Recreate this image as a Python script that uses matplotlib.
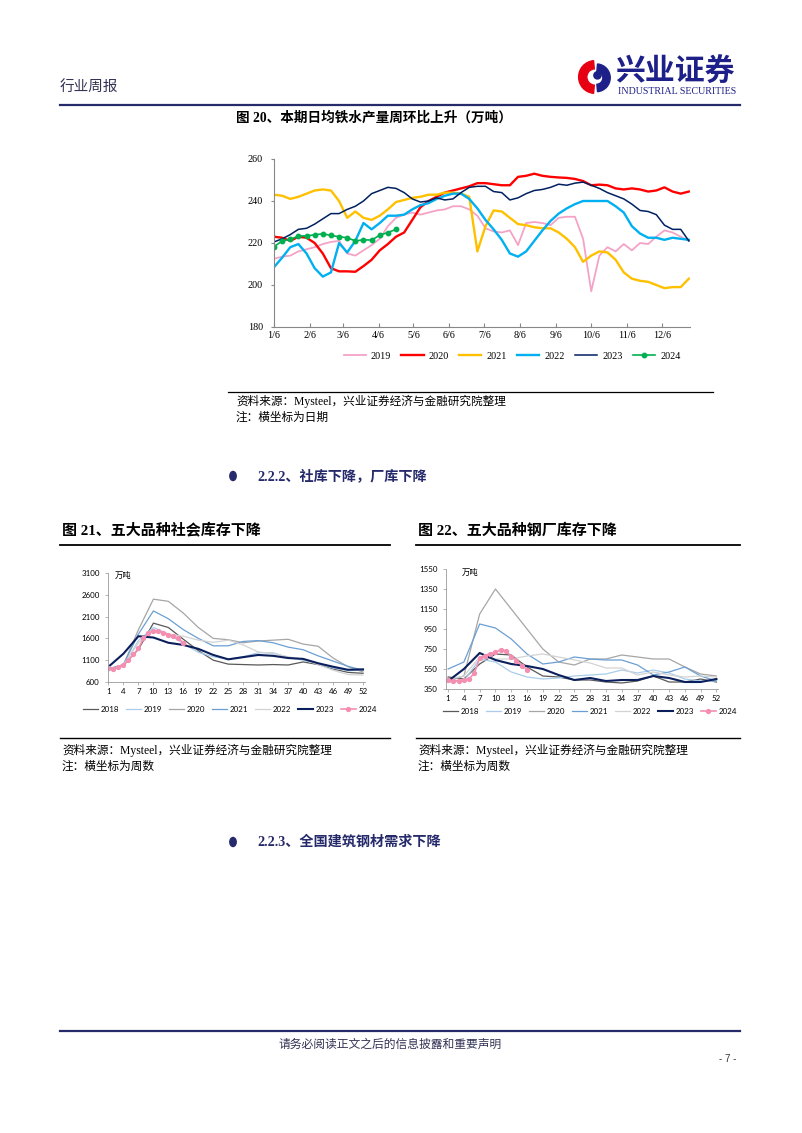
import matplotlib.pyplot as plt
import numpy as np
from matplotlib.patches import Wedge, Circle

W, H = 802, 1133
SERIF_CN = ['Liberation Serif', 'Noto Sans CJK SC']
NAVY = '#262a6b'

# ---------------- data: fig 20 (weekly, daily avg hot metal, 万吨) ----------------
days = 5 + 7 * np.arange(52)
month_days = [5, 36, 64, 95, 125, 156, 186, 217, 248, 278, 309, 339]
month_labels = ['1/6', '2/6', '3/6', '4/6', '5/6', '6/6', '7/6', '8/6', '9/6', '10/6', '11/6', '12/6']

y2019 = [212.5, 213.5, 214, 216, 217, 218, 219.5, 220.5, 221, 215, 214, 216.5, 219, 222,
         228, 232, 233.5, 234.5, 233.5, 234.5, 235.5, 236, 237.5, 237.5, 236, 233, 227,
         225.5, 225, 226, 219, 229.5, 230, 229.5, 228.5, 232, 232.5, 232.5, 222, 197, 214,
         218, 216, 219.5, 216.5, 220, 219.5, 223, 226, 225, 223, 221]
y2020 = [223, 222.5, 221, 223, 222.5, 220, 215, 208, 206.5, 206.5, 206.3, 209, 212, 216.5,
         219.5, 223, 225, 231, 237, 240, 242, 244, 245, 246, 247, 248.5, 248.5, 248, 247.5,
         247.5, 251.5, 252, 253, 252, 251.5, 251.2, 251, 250.5, 249.5, 247.5, 247.8, 247.5,
         246, 245.5, 246, 245.5, 244.5, 245, 246.5, 244.5, 243.5, 244.5]
y2021 = [243, 242.5, 241, 242, 243.5, 245, 245.5, 245, 240, 232, 235, 232, 231, 233, 236,
         239.5, 240.5, 241.5, 242, 243, 243, 244, 244, 243.5, 242, 216, 228, 235.5, 235,
         232, 229, 228.5, 227.5, 227, 227, 225, 222, 218, 211, 214, 216, 215.5, 212, 206,
         203, 202, 201.5, 200, 198.5, 199, 199, 203]
y2022 = [208.5, 213, 218, 219.5, 215, 208, 204, 206, 220, 215.5, 221, 229.5, 226.5, 229.5,
         233, 233, 233.5, 236, 238, 239, 241, 242.5, 243.5, 243.5, 241, 236.5, 231, 226.5,
         221.5, 215, 213.5, 216, 221, 226, 230.5, 234, 236.5, 238.5, 240, 240, 240, 240,
         237.5, 234.5, 228, 224.5, 222.5, 222.5, 221.5, 222.5, 222, 221.5]
y2023 = [220.5, 222, 224, 226.5, 227, 229, 231.5, 234, 234, 236, 237.5, 240, 243.5, 245,
         246.5, 246, 244, 241, 239.5, 240, 241.5, 240.5, 241, 244, 246.5, 247, 247, 244.5,
         244, 240.5, 241.5, 243.5, 245, 245.5, 246.5, 248, 247.5, 248.5, 249, 247.5, 246,
         244, 242.5, 241, 238.5, 235.5, 235, 233.5, 228.5, 226.5, 226.5, 221]
y2024 = [218.2, 221.0, 221.7, 223.3, 223.4, 223.9, 224.4, 223.6, 223.0, 222.5, 221.0, 221.5,
         221.4, 223.7, 225.0, 226.5]

# ---------------- data: fig 21 / 22 (weeks 1,4,...,52) ----------------
wk = list(range(1, 53, 3))
wk24 = list(range(1, 17))

soc = {
    '2018': [900, 980, 1350, 1950, 1850, 1580, 1320, 1100, 1010, 1000, 990, 1000, 990, 1060, 1000, 900, 820, 800],
    '2019': [900, 960, 1550, 1850, 1700, 1480, 1280, 1180, 1120, 1180, 1270, 1270, 1160, 1100, 1020, 920, 860, 870],
    '2020': [880, 1000, 1800, 2500, 2450, 2180, 1850, 1600, 1570, 1500, 1540, 1560, 1580, 1470, 1420, 1150, 950, 830],
    '2021': [900, 1000, 1700, 2230, 2050, 1800, 1600, 1430, 1430, 1530, 1550, 1500, 1400, 1340, 1200, 1080, 960, 870],
    '2022': [850, 1000, 1500, 1800, 1700, 1650, 1560, 1510, 1560, 1450, 1290, 1250, 1180, 1120, 1000, 870, 770, 760],
    '2023': [950, 1250, 1650, 1620, 1500, 1450, 1360, 1220, 1120, 1170, 1220, 1200, 1150, 1130, 1030, 950, 880, 890],
}
soc2024 = [912, 897, 950, 990, 1103, 1233, 1370, 1600, 1713, 1774, 1766, 1735, 1675, 1652, 1600, 1500]

mill = {
    '2018': [470, 450, 600, 700, 690, 570, 480, 470, 440, 440, 420, 410, 430, 480, 420, 420, 450, 420],
    '2019': [420, 430, 650, 620, 520, 470, 450, 460, 480, 490, 500, 540, 510, 540, 510, 450, 430, 430],
    '2020': [430, 480, 1100, 1350, 1150, 950, 750, 620, 590, 650, 650, 690, 670, 650, 650, 570, 500, 480],
    '2021': [550, 620, 1000, 960, 850, 700, 600, 620, 670, 650, 640, 640, 590, 490, 520, 570, 480, 430],
    '2022': [450, 480, 670, 650, 650, 680, 700, 670, 640, 610, 560, 560, 490, 520, 490, 470, 480, 470],
    '2023': [430, 550, 710, 640, 600, 580, 550, 490, 440, 460, 430, 440, 440, 480, 460, 420, 420, 450],
}
mill2024 = [437, 435, 433, 437, 452, 510, 660, 685, 705, 720, 740, 733, 675, 635, 585, 545]

small_colors = {'2018': '#595959', '2019': '#a9cdea', '2020': '#a6a6a6',
                '2021': '#6b9fd4', '2022': '#d3d3d3', '2023': '#0b1f5c'}


def px(x, y):
    return x / W, 1 - y / H


def box(x0, y0, x1, y1):
    return [x0 / W, 1 - y1 / H, (x1 - x0) / W, (y1 - y0) / H]


def hline(fig, x0, x1, y, color='black', lw=1.0):
    fig.add_artist(plt.Line2D([x0 / W, x1 / W], [1 - y / H, 1 - y / H],
                              color=color, lw=lw, transform=fig.transFigure))


def text(fig, x, y, s, size, family=SERIF_CN, weight='normal', color='black', ha='left'):
    fig.text(x / W, 1 - y / H, s, fontsize=size, family=family, weight=weight,
             color=color, ha=ha, va='center')


fig = plt.figure(figsize=(W / 100, H / 100), dpi=100)

# ---------------- page header ----------------
text(fig, 60, 87, '行业周报', 10.5, family=['Noto Sans CJK SC'], color='#333355')
lax = fig.add_axes(box(577, 56, 613, 98))
lax.set_xlim(-1.1, 1.1)
lax.set_ylim(-1.1, 1.1)
lax.set_aspect('equal')
lax.axis('off')
lax.add_patch(Wedge((0, 0), 1.0, 95, 265, width=0.5, color='#e60012'))
lax.add_patch(Wedge((0.08, -0.05), 0.85, -85, 85, width=0.45, color='#1d2088'))
lax.add_patch(Circle((0.15, 0.1), 0.22, color='#1d2088'))
text(fig, 615, 72, '兴业证券', 21.5, family=['Noto Sans CJK SC'], weight='bold', color='#1d2088')
text(fig, 618, 91, 'INDUSTRIAL SECURITIES', 7.2, family=['Liberation Serif'], color='#1d2088')
hline(fig, 60, 740, 105, color=NAVY, lw=1.6)

# ---------------- fig 20 ----------------
text(fig, 236, 118, '图 20、本期日均铁水产量周环比上升（万吨）', 9.8, weight='bold')
ax1 = fig.add_axes(box(274, 159, 690, 327))
ax1.plot(days, y2019, color='#f4a3c6', lw=1.3, label='2019')
ax1.plot(days, y2020, color='#ff0000', lw=1.7, label='2020')
ax1.plot(days, y2021, color='#ffc000', lw=1.7, label='2021')
ax1.plot(days, y2022, color='#00b0f0', lw=1.7, label='2022')
ax1.plot(days, y2023, color='#002060', lw=1.1, label='2023')
ax1.plot(days[:len(y2024)], y2024, color='#00b050', lw=1.2, marker='o', ms=3.2, label='2024')
ax1.set_xlim(5, 363)
ax1.set_ylim(180, 260)
ax1.set_yticks(range(180, 261, 20))
ax1.set_xticks(month_days)
ax1.set_xticklabels(month_labels)
for s in ['top', 'right']:
    ax1.spines[s].set_visible(False)
for s in ['left', 'bottom']:
    ax1.spines[s].set_color('#888888')
    ax1.spines[s].set_linewidth(0.8)
ax1.tick_params(axis='x', direction='in', length=3, color='#888888', pad=3)
ax1.tick_params(axis='y', direction='out', length=2, color='#888888', pad=6)
for lab in ax1.get_xticklabels() + ax1.get_yticklabels():
    lab.set_family('Liberation Serif')
    lab.set_fontsize(7.3)
ax1.legend(loc='center', bbox_to_anchor=px(512, 356), bbox_transform=fig.transFigure,
           ncol=6, frameon=False, handlelength=2.2, columnspacing=1.0, handletextpad=0.5,
           prop={'family': 'Liberation Serif', 'size': 7.3})

hline(fig, 228, 713, 392, lw=0.9)
text(fig, 236, 401, '资料来源：Mysteel，兴业证券经济与金融研究院整理', 8.4)
text(fig, 236, 418, '注：横坐标为日期', 8.4)

# ---------------- section 2.2.2 ----------------
fig.add_artist(Circle(px(233, 476), 3.2 / W, color=NAVY, transform=fig.transFigure))
text(fig, 257, 476, '2.2.2、社库下降，厂库下降', 10.2, weight='bold', color=NAVY)

# ---------------- fig 21 / 22 ----------------
text(fig, 62, 531, '图 21、五大品种社会库存下降', 10.8, weight='bold')
hline(fig, 60, 390, 545, lw=1.3)
text(fig, 418, 531, '图 22、五大品种钢厂库存下降', 10.8, weight='bold')
hline(fig, 416, 740, 545, lw=1.3)


def small_chart(rect, data, d2024, ylim, ystep, xlim, legend_xy, unit_xy):
    ax = fig.add_axes(rect)
    for yr, vals in data.items():
        ax.plot(wk, vals, color=small_colors[yr], lw=1.5 if yr == '2023' else 0.9, label=yr)
    ax.plot(wk24, d2024, color='#f48fb1', lw=1.2, marker='o', ms=2.8, label='2024')
    ax.set_xlim(*xlim)
    ax.set_ylim(*ylim)
    ax.set_yticks(range(ylim[0], ylim[1] + 1, ystep))
    ax.set_xticks(wk)
    for s in ['top', 'right']:
        ax.spines[s].set_visible(False)
    for s in ['left', 'bottom']:
        ax.spines[s].set_color('#999999')
        ax.spines[s].set_linewidth(0.6)
    ax.tick_params(length=2, width=0.5, color='#999999', labelsize=5.7, pad=2)
    ax.tick_params(axis='y', pad=4)
    for lab in ax.get_xticklabels() + ax.get_yticklabels():
        lab.set_family('Lato')
    text(fig, unit_xy[0], unit_xy[1], '万吨', 6, family=['Noto Sans CJK SC'])
    ax.legend(loc='center', bbox_to_anchor=px(*legend_xy), bbox_transform=fig.transFigure,
              ncol=7, frameon=False, handlelength=1.9, columnspacing=0.8, handletextpad=0.4,
              prop={'family': 'Lato', 'size': 5.7})
    return ax


small_chart(box(108, 573, 365, 682), soc, soc2024, (600, 3100), 500, (0.9, 52.4),
            (230, 709), (115, 575))
small_chart(box(446, 569, 718, 689), mill, mill2024, (350, 1550), 200, (0.6, 52.3),
            (590, 711), (462, 572))

hline(fig, 60, 390, 738, lw=1.0)
hline(fig, 416, 740, 738, lw=1.0)
text(fig, 62, 750, '资料来源：Mysteel，兴业证券经济与金融研究院整理', 8.4)
text(fig, 62, 767, '注：横坐标为周数', 8.4)
text(fig, 418, 750, '资料来源：Mysteel，兴业证券经济与金融研究院整理', 8.4)
text(fig, 418, 767, '注：横坐标为周数', 8.4)

# ---------------- section 2.2.3 ----------------
fig.add_artist(Circle(px(233, 842), 3.2 / W, color=NAVY, transform=fig.transFigure))
text(fig, 257, 842, '2.2.3、全国建筑钢材需求下降', 10.2, weight='bold', color=NAVY)

# ---------------- footer ----------------
hline(fig, 60, 740, 1031, color=NAVY, lw=1.6)
text(fig, 390, 1044, '请务必阅读正文之后的信息披露和重要声明', 8.5, family=['Noto Sans CJK SC'],
     ha='center', color='#333355')
text(fig, 728, 1059, '- 7 -', 7, family=['Liberation Sans'], ha='center', color='#333333')

fig.savefig('out.png', dpi=100)
